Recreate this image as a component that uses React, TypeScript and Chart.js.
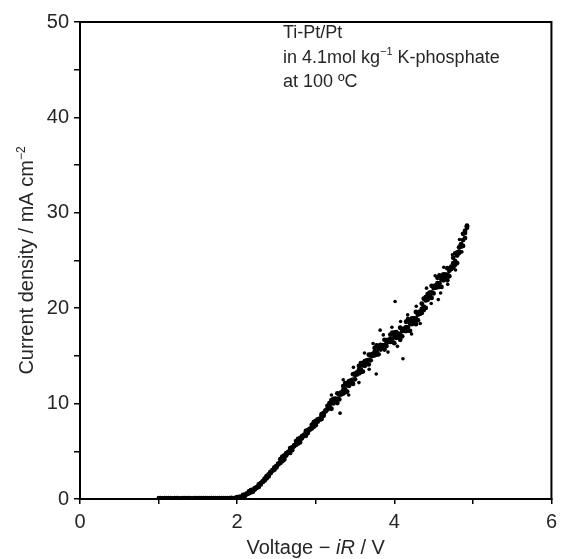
import React, { useEffect, useRef } from 'react';
import { Chart, registerables } from 'chart.js';

Chart.register(...registerables);

// ---- data ----
const baselineVoltage = [
  1.000, 1.025, 1.050, 1.075, 1.100, 1.125, 1.150, 1.175, 1.200, 1.225,
  1.250, 1.275, 1.300, 1.325, 1.350, 1.375, 1.400, 1.425, 1.450, 1.475,
  1.500, 1.525, 1.550, 1.575, 1.600, 1.625, 1.650, 1.675, 1.700, 1.725,
  1.750, 1.775, 1.800, 1.825, 1.850, 1.875, 1.900, 1.925, 1.950, 1.975,
];
const baselineCurrent = [
  0.12, 0.13, 0.11, 0.13, 0.12, 0.14, 0.12, 0.11, 0.13, 0.12,
  0.13, 0.11, 0.12, 0.14, 0.13, 0.12, 0.13, 0.11, 0.12, 0.13,
  0.14, 0.12, 0.13, 0.12, 0.14, 0.13, 0.12, 0.13, 0.14, 0.12,
  0.13, 0.14, 0.13, 0.12, 0.14, 0.13, 0.14, 0.15, 0.14, 0.16,
];

const sweepVoltage = [
  2.000, 2.025, 2.050, 2.075, 2.100, 2.125, 2.150, 2.175, 2.200, 2.225,
  2.250, 2.275, 2.300, 2.325, 2.350, 2.375, 2.400, 2.425, 2.450, 2.475,
  2.500, 2.525, 2.550, 2.575, 2.600, 2.625, 2.650, 2.675, 2.700, 2.725,
  2.750, 2.775, 2.800, 2.825, 2.850, 2.875, 2.900, 2.925, 2.950, 2.975,
  3.000, 3.025, 3.050, 3.075, 3.100, 3.125, 3.150, 3.175, 3.200, 3.225,
  3.250, 3.275, 3.300, 3.325, 3.350, 3.375, 3.400, 3.425, 3.450, 3.475,
  3.500, 3.525, 3.550, 3.575, 3.600, 3.625, 3.650, 3.675, 3.700, 3.725,
  3.750, 3.775, 3.800, 3.825, 3.850, 3.875, 3.900, 3.925, 3.950, 3.975,
  4.000, 4.025, 4.050, 4.075, 4.100, 4.125, 4.150, 4.175, 4.200, 4.225,
  4.250, 4.275, 4.300, 4.325, 4.350, 4.375, 4.400, 4.425, 4.450, 4.475,
  4.500, 4.525, 4.550, 4.575, 4.600, 4.625, 4.650, 4.675, 4.700, 4.725,
  4.750, 4.775, 4.800, 4.825, 4.850, 4.875, 4.900, 4.925,
];
const sweepA = [
  0.12, 0.22, 0.17, 0.42, 0.31, 0.55, 0.59, 0.93, 0.77, 1.13,
  1.17, 1.52, 1.51, 1.83, 1.94, 2.40, 2.37, 2.83, 2.97, 3.32,
  3.31, 3.71, 3.78, 4.45, 4.13, 4.80, 4.84, 5.34, 5.12, 5.61,
  5.68, 6.30, 5.93, 6.60, 6.64, 7.14, 6.92, 7.36, 7.38, 8.05,
  7.73, 8.35, 8.34, 8.89, 8.72, 9.26, 9.38, 10.05, 9.46, 10.50,
  10.28, 11.08, 10.44, 11.17, 11.06, 12.15, 11.26, 12.35, 12.18, 13.08,
  12.54, 13.27, 13.16, 14.25, 13.36, 14.45, 14.28, 15.13, 14.54, 15.22,
  15.06, 16.10, 15.16, 16.15, 15.88, 16.68, 16.04, 16.67, 16.46, 17.45,
  16.33, 17.48, 17.05, 17.95, 17.05, 17.85, 17.60, 18.85, 17.63, 18.93,
  18.65, 19.60, 18.75, 19.65, 19.50, 21.00, 20.03, 21.48, 21.35, 22.35,
  21.55, 22.40, 22.20, 23.45, 22.23, 23.53, 23.25, 24.20, 23.35, 24.35,
  24.30, 25.75, 24.73, 26.38, 26.45, 27.80, 27.35, 28.65,
];
const sweepB = [
  0.19, 0.13, 0.22, 0.17, 0.46, 0.51, 0.79, 0.69, 0.99, 1.01,
  1.22, 1.27, 1.66, 1.79, 2.14, 2.16, 2.59, 2.71, 3.02, 3.07,
  3.46, 3.62, 4.17, 3.97, 4.58, 4.56, 4.93, 4.83, 5.42, 5.52,
  6.07, 5.82, 6.38, 6.36, 6.73, 6.63, 7.22, 7.27, 7.77, 7.57,
  8.18, 8.11, 8.43, 8.38, 9.02, 9.17, 9.77, 9.57, 10.36, 10.02,
  10.46, 10.06, 11.04, 10.99, 11.84, 11.19, 12.16, 11.87, 12.36, 12.06,
  13.14, 13.09, 13.94, 13.29, 14.26, 13.97, 14.46, 14.11, 15.14, 15.04,
  15.84, 15.14, 16.06, 15.67, 16.06, 15.66, 16.64, 16.49, 17.24, 16.49,
  17.45, 16.88, 17.28, 16.68, 17.80, 17.63, 18.58, 17.65, 18.75, 18.33,
  18.88, 18.33, 19.50, 19.43, 20.48, 19.80, 21.15, 20.88, 21.58, 21.08,
  22.30, 22.18, 23.18, 22.25, 23.35, 22.93, 23.48, 22.93, 24.10, 24.13,
  25.28, 24.55, 25.85, 25.78, 26.68, 26.53, 28.10, 28.43,
];
const sweepC = [
  0.14, 0.20, 0.22, 0.30, 0.42, 0.55, 0.66, 0.82, 0.92, 1.02,
  1.24, 1.38, 1.62, 1.84, 1.98, 2.30, 2.48, 2.78, 2.98, 3.24,
  3.42, 3.70, 3.86, 4.22, 4.36, 4.70, 4.86, 5.18, 5.26, 5.60,
  5.74, 6.08, 6.14, 6.50, 6.66, 6.98, 7.04, 7.36, 7.46, 7.82,
  7.94, 8.26, 8.34, 8.72, 8.84, 9.26, 9.44, 9.82, 10.10, 10.14,
  10.52, 10.50, 10.94, 10.98, 11.40, 11.48, 11.92, 11.98, 12.44, 12.52,
  13.02, 13.06, 13.52, 13.58, 14.02, 14.06, 14.54, 14.58, 15.02, 15.02,
  15.42, 15.44, 15.82, 15.78, 16.12, 16.12, 16.52, 16.48, 16.82, 16.78,
  17.12, 17.02, 17.34, 17.26, 17.62, 17.62, 18.02, 18.02, 18.42, 18.46,
  18.92, 18.92, 19.32, 19.42, 19.92, 20.16, 20.82, 21.02, 21.62, 21.66,
  22.12, 22.16, 22.62, 22.62, 23.02, 23.06, 23.52, 23.52, 23.92, 24.12,
  24.72, 24.92, 25.52, 25.94, 26.70, 27.14, 27.88, 28.60,
];
const speckleVoltage = [
  3.35, 3.42, 3.48, 3.55, 3.62, 3.68, 3.73, 3.86, 3.92, 3.97,
  4.04, 4.08, 4.17, 4.22, 4.28, 4.33, 4.41, 4.47, 4.52, 4.59,
  4.63, 4.68, 4.74, 4.78, 4.83, 4.86,
];
const speckleCurrent = [
  12.5, 10.9, 13.8, 12.2, 15.3, 13.6, 16.3, 17.2, 15.4, 18.0,
  16.0, 18.6, 19.3, 17.3, 20.2, 18.4, 22.1, 20.5, 23.4, 21.6,
  24.3, 22.5, 25.6, 24.0, 27.2, 25.9,
];
const strayVoltage = [4.01, 4.11, 3.77, 3.82, 3.31, 3.20, 4.56];
const strayCurrent = [20.7, 14.7, 13.1, 17.7, 9.0, 10.9, 20.9];

const xLabelValues = [0, 2, 4, 6];
const yLabelValues = [0, 10, 20, 30, 40, 50];
const annotationLines = ['Ti-Pt/Pt', 'in 4.1mol kg', 'at 100 ºC'];

const FONT = "'Liberation Sans', Arial, Helvetica, sans-serif";
const TEXT = '#262626';

type Seg = { t: string; italic?: boolean; sup?: boolean };

function segFont(s: Seg, size: number) {
  const sz = s.sup ? Math.round(size * 0.62) : size;
  return `${s.italic ? 'italic ' : ''}${sz}px ${FONT}`;
}
function measure(ctx: CanvasRenderingContext2D, segs: Seg[], size: number) {
  let w = 0;
  for (const s of segs) {
    ctx.font = segFont(s, size);
    w += ctx.measureText(s.t).width;
  }
  return w;
}
function drawRich(ctx: CanvasRenderingContext2D, segs: Seg[], x: number, y: number, size: number) {
  let cx = x;
  for (const s of segs) {
    ctx.font = segFont(s, size);
    ctx.fillText(s.t, cx, s.sup ? y - size * 0.42 : y);
    cx += ctx.measureText(s.t).width;
  }
}

const decorPlugin = {
  id: 'decor',
  afterDraw(chart: any) {
    const { ctx, chartArea } = chart;
    const { left, right, top, bottom } = chartArea;
    ctx.save();
    ctx.strokeStyle = '#000';
    ctx.lineWidth = 2;
    ctx.strokeRect(left, top, right - left, bottom - top);

    ctx.fillStyle = TEXT;
    ctx.textAlign = 'left';
    ctx.textBaseline = 'alphabetic';

    const fs = 20;
    const xs: Seg[] = [{ t: 'Voltage − ' }, { t: 'iR', italic: true }, { t: ' / V' }];
    const xw = measure(ctx, xs, fs);
    drawRich(ctx, xs, (left + right) / 2 - xw / 2, 554, fs);

    const ys: Seg[] = [{ t: 'Current density / mA cm' }, { t: '−2', sup: true }];
    const yw = measure(ctx, ys, fs);
    ctx.save();
    ctx.translate(33, (top + bottom) / 2);
    ctx.rotate(-Math.PI / 2);
    drawRich(ctx, ys, -yw / 2, 0, fs);
    ctx.restore();

    const as = 18;
    const ax = 283;
    drawRich(ctx, [{ t: annotationLines[0] }], ax, 38, as);
    drawRich(ctx, [{ t: annotationLines[1] }, { t: '−1', sup: true }, { t: ' K-phosphate' }], ax, 63, as);
    drawRich(ctx, [{ t: annotationLines[2] }], ax, 87, as);
    ctx.restore();
  },
};

export default function App() {
  const ref = useRef<HTMLCanvasElement | null>(null);
  useEffect(() => {
    if (!ref.current) return;
    const mk = (xs: number[], ys: number[]) => xs.map((x, i) => ({ x, y: ys[i] }));
    const ds = (data: any[], r: number) => ({
      data,
      pointRadius: r,
      pointHoverRadius: r,
      pointBackgroundColor: '#000',
      pointBorderWidth: 0,
      borderColor: '#000',
      showLine: false,
    });
    const chart = new Chart(ref.current, {
      type: 'scatter',
      data: {
        datasets: [
          ds(mk(baselineVoltage, baselineCurrent), 2.0),
          ds(mk(sweepVoltage, sweepA), 2.4),
          ds(mk(sweepVoltage, sweepB), 2.4),
          ds(mk(sweepVoltage, sweepC), 2.4),
          ds(mk(speckleVoltage, speckleCurrent), 1.8),
          ds(mk(strayVoltage, strayCurrent), 1.8),
        ],
      },
      options: {
        animation: false,
        responsive: true,
        maintainAspectRatio: false,
        layout: { padding: { top: 22, right: 8, left: 0, bottom: 0 } },
        plugins: { legend: { display: false }, tooltip: { enabled: false } },
        scales: {
          x: {
            type: 'linear',
            min: 0,
            max: 6,
            ticks: {
              stepSize: 1,
              autoSkip: false,
              maxRotation: 0,
              padding: 6,
              color: TEXT,
              font: { family: FONT, size: 20 },
              callback: (v: any) => (xLabelValues.includes(Number(v)) ? String(v) : ''),
            },
            grid: { drawOnChartArea: false, drawTicks: true, tickLength: 5, color: '#000', lineWidth: 1.5 },
            border: { display: true, color: '#000', width: 2 },
            afterFit: (s: any) => { s.height = 60; },
          },
          y: {
            type: 'linear',
            min: 0,
            max: 50,
            ticks: {
              stepSize: 5,
              autoSkip: false,
              padding: 5,
              color: TEXT,
              font: { family: FONT, size: 20 },
              callback: (v: any) => (yLabelValues.includes(Number(v)) ? String(v) : ''),
            },
            grid: { drawOnChartArea: false, drawTicks: true, tickLength: 6, color: '#000', lineWidth: 1.5 },
            border: { display: true, color: '#000', width: 2 },
            afterFit: (s: any) => { s.width = 80; },
          },
        },
      },
      plugins: [decorPlugin],
    } as any);
    return () => chart.destroy();
  }, []);
  return (
    <div style={{ position: 'absolute', left: 0, top: 0, width: 563, height: 559, background: '#fff' }}>
      <canvas ref={ref} />
    </div>
  );
}
